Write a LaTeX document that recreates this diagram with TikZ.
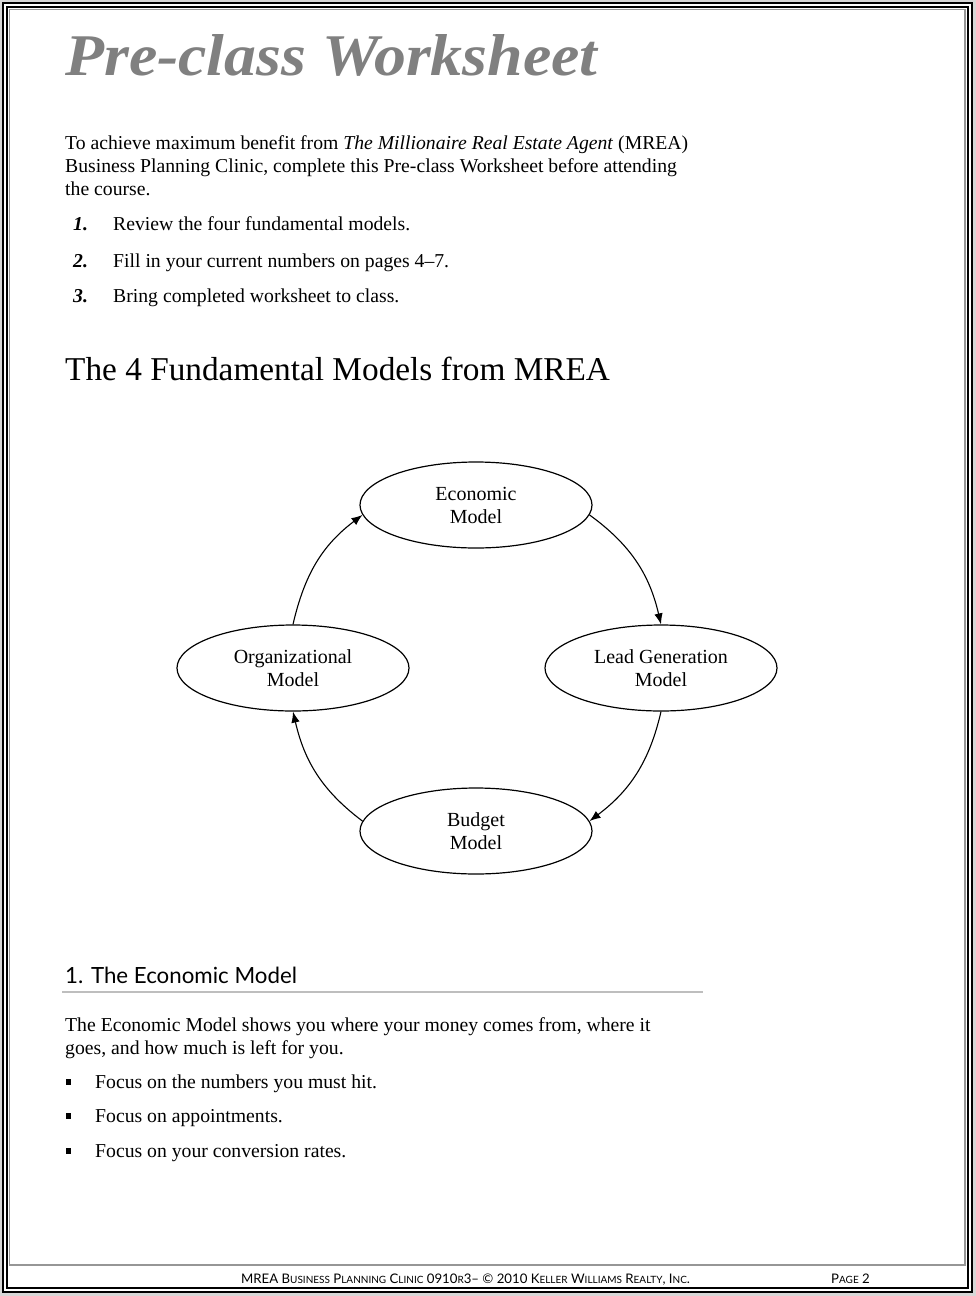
\documentclass[tikz,border=0pt]{standalone}
\usepackage{graphicx}
\usepackage{fontspec}
\setmainfont{Liberation Serif}
\newfontfamily\gillish[Ligatures=TeX]{Lato}
\usetikzlibrary{shapes.geometric,arrows.meta}
\definecolor{titlegray}{RGB}{128,128,128}
\definecolor{framegray}{RGB}{150,150,150}
\definecolor{rulegray}{RGB}{190,190,190}
\definecolor{edgegray}{RGB}{215,215,215}
\newcommand{\fsc}[1]{{\fontsize{10}{12}\selectfont #1}}
\begin{document}
\begin{tikzpicture}[x=1pt,y=1pt]
\tikzset{
  txt/.style={anchor=base west, inner sep=0pt, font=\fontsize{19.7}{23}\selectfont},
  num/.style={anchor=base west, inner sep=0pt, font=\fontsize{19.7}{23}\selectfont\bfseries\itshape},
  model/.style={draw, ellipse, line width=1.2pt, minimum width=232pt, minimum height=86pt,
     inner sep=0pt, align=center, font=\fontsize{20}{23}\selectfont},
  link/.style={line width=1.1pt, -{Latex[length=11pt,width=8.5pt]}},
  bulletbox/.style={fill=black, minimum width=5.5pt, minimum height=6.5pt, inner sep=0pt},
  foot/.style={anchor=base west, inner sep=0pt, font=\gillish\fontsize{13.2}{14}\selectfont},
}
% page and frames
\fill[edgegray] (0,0) rectangle (976,-1296);
\useasboundingbox (0,0) rectangle (976,-1296);
\draw[fill=white, line width=1.5pt] (3,-3) rectangle (972,-1292);
\draw[line width=1.5pt] (7,-7) rectangle (968,-1288);
\draw[framegray, line width=1.2pt] (9.5,-9.5) rectangle (965,-1265);

% title
\node[anchor=base west, inner sep=0pt, text=titlegray] (title) at (65,-75)
  {\resizebox{532pt}{41pt}{\bfseries\itshape Pre-class Worksheet}};

% intro
\node[txt] (p1) at (65,-149) {To achieve maximum benefit from \textit{The Millionaire Real Estate Agent} (MREA)};
\node[txt] (p2) at (65,-172) {Business Planning Clinic, complete this Pre-class Worksheet before attending};
\node[txt] (p3) at (65,-195) {the course.};
\node[num] (n1) at (73,-230) {1.};
\node[txt] (i1) at (113,-230) {Review the four fundamental models.};
\node[num] (n2) at (73,-267) {2.};
\node[txt] (i2) at (113,-267) {Fill in your current numbers on pages 4--7.};
\node[num] (n3) at (73,-302) {3.};
\node[txt] (i3) at (113,-302) {Bring completed worksheet to class.};

% heading
\node[anchor=base west, inner sep=0pt, font=\fontsize{33.3}{38}\selectfont] (h) at (65,-380)
  {The 4 Fundamental Models from MREA};

% diagram
\node[model] (eco) at (476,-505) {Economic\\Model};
\node[model] (org) at (293,-668) {Organizational\\Model};
\node[model] (lead) at (661,-668) {Lead Generation\\Model};
\node[model] (bud) at (476,-831) {Budget\\Model};

\draw[link] (eco.-5) to[out=-36, in=103] (lead.north);
\draw[link] (lead.south) to[out=-103, in=37] (bud.5);
\draw[link] (bud.175) to[out=143, in=-77] (org.south);
\draw[link] (org.north) to[out=77, in=-143] (eco.185);

% section 1
\node[anchor=base west, inner sep=0pt, font=\gillish\fontsize{22.3}{25}\selectfont] (s1) at (65,-983)
  {1. The Economic Model};
\coordinate (rl) at (62,-992);
\coordinate (rr) at (703,-992);
\draw[rulegray, line width=1.3pt] (rl) -- (rr);

\node[txt] (e1) at (65,-1031) {The Economic Model shows you where your money comes from, where it};
\node[txt] (e2) at (65,-1054) {goes, and how much is left for you.};
\node[bulletbox] (b1) at (68.5,-1082) {};
\node[txt] (f1) at (95,-1088) {Focus on the numbers you must hit.};
\node[bulletbox] (b2) at (68.5,-1116) {};
\node[txt] (f2) at (95,-1122) {Focus on appointments.};
\node[bulletbox] (b3) at (68.5,-1151) {};
\node[txt] (f3) at (95,-1157) {Focus on your conversion rates.};

% footer
\node[foot] (foot) at (241,-1283)
  {MREA B\fsc{USINESS} P\fsc{LANNING} C\fsc{LINIC} 0910\fsc{R}3\textendash{} \textcopyright{} 2010 K\fsc{ELLER} W\fsc{ILLIAMS} R\fsc{EALTY}, I\fsc{NC}.};
\node[foot] (page) at (831,-1283) {P\fsc{AGE} 2};
\end{tikzpicture}
\end{document}
